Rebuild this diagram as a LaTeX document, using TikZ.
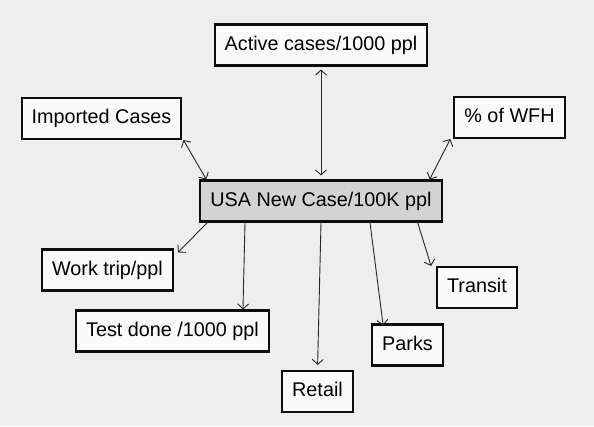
\documentclass[tikz,border=0pt]{standalone}
\usepackage{fontspec}
\setmainfont{Liberation Sans}
\usetikzlibrary{arrows.meta}
\definecolor{pagebg}{HTML}{EEEEEE}
\definecolor{boxfill}{HTML}{FAFAFA}
\definecolor{hubfill}{HTML}{D3D3D3}
\begin{document}
\begin{tikzpicture}[x=1pt,y=-1pt,
  factor/.style={draw=black!95,line width=2.1pt,fill=boxfill,minimum height=41pt,
    inner xsep=10pt,text height=14pt,text depth=4pt,font=\fontsize{19.8}{22}\selectfont},
  hub/.style={factor,fill=hubfill},
  link/.style={draw=black!85,line width=0.9pt,>={Straight Barb[length=5pt,width=11pt]}}]
\fill[pagebg] (0,0) rectangle (594,426);
\useasboundingbox (0,0) rectangle (594,426);
% boxes
\node[hub](usa) at (321,201){USA New Case/100K ppl};
\node[factor](active) at (321,45){Active cases/1000 ppl};
\node[factor](imported) at (101.5,118.5){Imported Cases};
\node[factor](wfh) at (509.5,117.5){\% of WFH};
\node[factor](work) at (107.5,270){Work trip/ppl};
\node[factor](test) at (172.5,331){Test done /1000 ppl};
\node[factor](retail) at (317.5,391.5){Retail};
\node[factor](parks) at (407.5,345){Parks};
\node[factor](transit) at (477,287.5){Transit};
% two-way links
\draw[link,<->,shorten <=3pt,shorten >=4pt] (active) -- (usa);
\draw[link,<->] ([xshift=1pt]imported.south east) -- ([xshift=7pt]usa.north west);
\draw[link,<->] ([xshift=-3pt]wfh.south west) -- ([xshift=-13pt]usa.north east);
% one-way links
\draw[link,->] ([xshift=8pt]usa.south west) -- ([xshift=4pt,yshift=-4pt]work.north east);
\draw[link,->] ([xshift=-76pt]usa.south) -- ([xshift=-27pt]test.north east);
\draw[link,->,shorten >=5pt] (usa.south) -- (retail.north);
\draw[link,->] ([xshift=49pt]usa.south) -- ([xshift=12pt,yshift=-2pt]parks.north west);
\draw[link,->] ([xshift=-25pt]usa.south east) -- ([xshift=-5pt]transit.north west);
\end{tikzpicture}
\end{document}
